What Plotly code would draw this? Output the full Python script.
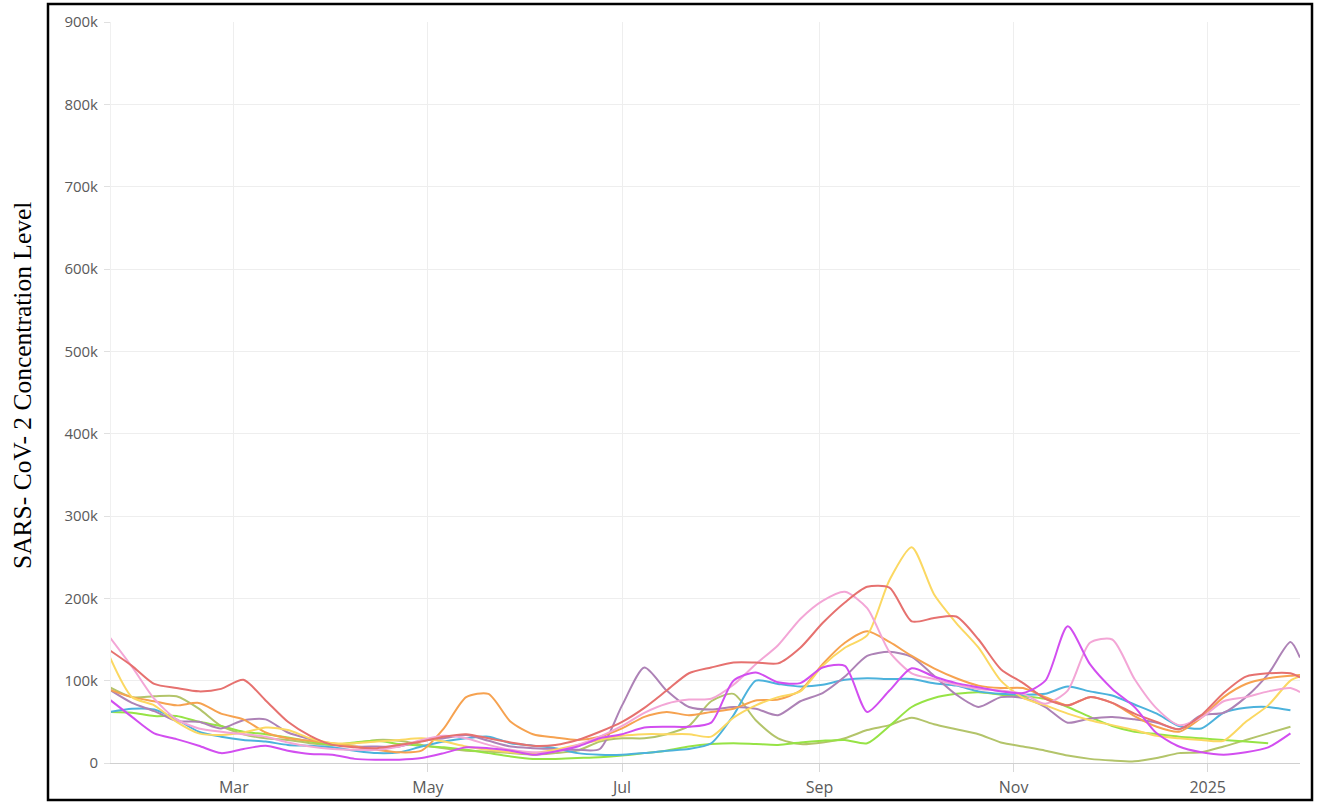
import pandas as pd
import plotly.graph_objects as go

# weekly sample dates (plus the final day shown)
dates = list(pd.date_range("2024-01-22", periods=54, freq="7D").strftime("%Y-%m-%d")) + ["2025-01-30"]

red = [137,118,96,91,87,90,101,76,50,33,22,19,18,22,26,32,35,30,25,21,22,28,38,50,67,88,109,116,122,122,121,140,170,195,214,213,172,176,178,150,114,97,78,70,80,73,60,50,41,58,85,105,109,109,104]
pink = [153,117,78,53,42,38,35,32,25,20,17,16,16,20,28,33,30,22,16,13,14,22,32,45,61,72,77,78,95,120,143,175,197,208,188,135,109,102,95,90,88,84,72,88,146,150,102,66,46,55,75,80,87,91,86]
yellow = [129,80,70,50,36,34,37,43,40,30,24,24,26,28,30,26,20,16,13,12,16,22,28,33,35,35,35,32,55,70,80,87,118,140,155,222,262,205,170,140,100,79,70,60,52,46,40,33,30,28,27,50,70,100,105]
orange = [89,80,75,70,73,60,53,37,30,27,24,20,16,13,15,42,80,84,50,35,31,28,32,42,56,62,58,62,66,76,77,88,120,146,160,147,130,115,103,94,91,91,80,70,80,73,57,44,38,55,80,96,103,106,107]
mauve = [89,73,63,51,50,42,52,53,37,29,23,20,20,20,27,30,34,27,20,18,17,16,17,70,116,88,68,65,68,66,58,75,85,105,130,135,129,106,83,68,80,79,68,49,54,56,53,49,41,58,61,80,108,147,128]
cyan = [62,66,65,53,38,32,28,26,22,21,19,15,12,13,20,26,30,32,24,21,18,12,10,10,12,15,17,24,58,100,96,93,95,101,103,102,102,97,94,87,84,83,84,93,87,82,71,60,45,42,61,67,68,64,None]
lime = [62,61,57,57,50,45,38,35,31,26,22,25,27,23,21,19,16,12,8,5,5,6,7,9,12,15,20,23,24,23,22,25,27,28,24,45,68,79,84,86,83,81,78,68,56,45,38,35,32,30,28,26,24,None,None]
olive = [92,80,81,81,66,45,35,30,28,24,22,24,28,27,22,18,15,14,12,10,12,15,26,30,30,35,45,75,84,52,30,23,25,30,40,46,55,47,41,35,25,20,15,9,5,3,2,6,12,13,20,28,36,44,None]
magenta = [77,56,36,29,21,12,17,21,15,11,10,5,4,4,6,12,19,18,15,10,14,20,30,35,43,44,44,49,100,110,98,97,116,118,62,88,115,105,97,92,87,85,100,166,120,90,68,36,20,13,10,13,19,36,None]

series = [
    ("olive", olive, "#b3c46a"),
    ("lime", lime, "#96e345"),
    ("cyan", cyan, "#4cb2dc"),
    ("mauve", mauve, "#ad82b6"),
    ("orange", orange, "#f6a250"),
    ("yellow", yellow, "#fbd862"),
    ("pink", pink, "#f3a6d6"),
    ("red", red, "#e6716f"),
    ("magenta", magenta, "#d24ef0"),
]

tick_dates = ["2024-03-01", "2024-05-01", "2024-07-01", "2024-09-01", "2024-11-01", "2025-01-01"]
tick_text = ["Mar", "May", "Jul", "Sep", "Nov", "2025"]
y_vals = [i * 100000 for i in range(10)]
y_text = ["0"] + [f"{i*100}k" for i in range(1, 10)]

fig = go.Figure()
for name, vals, color in series:
    fig.add_trace(go.Scatter(
        x=dates, y=[v * 1000 if v is not None else None for v in vals],
        mode="lines", name=name,
        line=dict(color=color, width=2, shape="spline", smoothing=0.7),
        connectgaps=False,
    ))

fig.update_layout(
    width=1317, height=803,
    margin=dict(l=111, r=17, t=22, b=40, autoexpand=False),
    paper_bgcolor="white", plot_bgcolor="white",
    showlegend=False,
    font=dict(family="Open Sans, sans-serif", color="#666666"),
    xaxis=dict(
        type="date", range=["2024-01-22 10:00", "2025-01-30 00:00"],
        tickvals=tick_dates, ticktext=tick_text,
        showgrid=True, gridcolor="#eeeeee", gridwidth=1,
        ticks="outside", ticklen=8, tickcolor="#d8d8d8",
        ticklabelstandoff=2, automargin=False,
        showline=True, linecolor="#d0d0d0", linewidth=1,
        tickfont=dict(size=16, color="#5a5a5a"),
        zeroline=False,
    ),
    yaxis=dict(
        range=[0, 900000], tickvals=y_vals, ticktext=y_text,
        showgrid=True, gridcolor="#eeeeee", gridwidth=1,
        ticks="outside", ticklen=6, tickcolor="#e0e0e0",
        ticklabelstandoff=3, automargin=False,
        showline=True, linecolor="#f0f0f0",
        tickfont=dict(size=15, color="#5a5a5a"),
        zeroline=False,
    ),
    shapes=[dict(
        type="rect", xref="paper", yref="paper",
        x0=(48 - 111) / 1189, x1=(1312 - 111) / 1189,
        y0=(763 - 800) / 741, y1=(763 - 4) / 741,
        line=dict(color="black", width=2.5), fillcolor="rgba(0,0,0,0)",
    )],
    annotations=[dict(
        text="SARS- CoV- 2 Concentration Level",
        xref="paper", yref="paper",
        x=(22 - 111) / 1189, y=(763 - 386) / 741,
        xanchor="center", yanchor="middle", textangle=-90, showarrow=False,
        font=dict(family="Liberation Serif, Times New Roman, serif", size=25.5, color="black"),
    )],
)

fig.write_html(
    "out.html",
    config={"displayModeBar": False},
    post_script="document.body.style.margin='0';document.body.style.overflow='hidden';",
)
